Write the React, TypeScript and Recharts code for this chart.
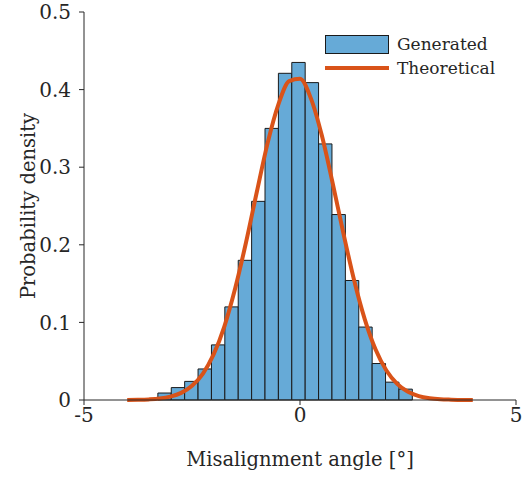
import React from "react";
import {
  ComposedChart,
  Line,
  XAxis,
  YAxis,
  ReferenceArea,
} from "recharts";

// histogram bin edges (degrees) and densities
const binEdges = [
  -3.29, -2.98, -2.67, -2.36, -2.05, -1.74, -1.43, -1.12, -0.81, -0.5, -0.19,
  0.12, 0.43, 0.74, 1.05, 1.36, 1.67, 1.98, 2.29, 2.6,
];
const binHeights = [
  0.009, 0.016, 0.024, 0.04, 0.071, 0.12, 0.18, 0.256, 0.35, 0.421, 0.435,
  0.409, 0.33, 0.239, 0.154, 0.094, 0.047, 0.023, 0.014,
];

// theoretical curve
const curveX = [
  -4, -3.75, -3.5, -3.25, -3, -2.75, -2.5, -2.25, -2, -1.75, -1.5, -1.25, -1,
  -0.75, -0.5, -0.25, 0, 0.25, 0.5, 0.75, 1, 1.25, 1.5, 1.75, 2, 2.25, 2.5,
  2.75, 3, 3.25, 3.5, 3.75, 4,
];
const curveY = [
  0.0001, 0.0003, 0.0008, 0.0019, 0.0044, 0.0092, 0.0183, 0.0338, 0.0587,
  0.095, 0.144, 0.203, 0.268, 0.331, 0.381, 0.411, 0.414, 0.389, 0.342, 0.281,
  0.216, 0.155, 0.104, 0.065, 0.038, 0.0208, 0.0106, 0.0051, 0.0023, 0.0009,
  0.0004, 0.0001, 0.00005,
];

const xTicks = [-5, 0, 5];
const yTicks = [0, 0.1, 0.2, 0.3, 0.4, 0.5];

const FONT = "DejaVu Serif";
const TEXT = "#262626";
const BAR_FILL = "#66AAD7";
const LINE_COLOR = "#D95319";

const data = curveX.map((x, i) => ({ x, y: curveY[i] }));

export default function App() {
  return (
    <div
      style={{
        position: "absolute",
        left: 0,
        top: 0,
        width: 522,
        height: 478,
        background: "#fff",
        fontFamily: FONT,
      }}
    >
      <ComposedChart
        width={522}
        height={478}
        data={data}
        margin={{ top: 12, right: 6, left: 0, bottom: 0 }}
      >
        <XAxis
          dataKey="x"
          type="number"
          domain={[-5, 5]}
          ticks={xTicks}
          allowDataOverflow
          height={78}
          stroke={TEXT}
          tickSize={5}
          tick={{ fontSize: 20, fill: TEXT, fontFamily: FONT }}
          tickMargin={3}
          label={(props: any) => {
            const vb = props.viewBox;
            return (
              <text
                x={vb.x + vb.width / 2}
                y={vb.y + 66}
                textAnchor="middle"
                fontSize={19.5}
                fill={TEXT}
                fontFamily={FONT}
              >
                Misalignment angle [°]
              </text>
            );
          }}
        />
        <YAxis
          type="number"
          domain={[0, 0.5]}
          ticks={yTicks}
          width={84}
          stroke={TEXT}
          tickSize={5}
          tick={{ fontSize: 20, fill: TEXT, fontFamily: FONT }}
          tickMargin={8}
          tickFormatter={(v: number) => (v === 0 ? "0" : String(v))}
          label={(props: any) => {
            const vb = props.viewBox;
            const cx = 28;
            const cy = vb.y + vb.height / 2;
            return (
              <text
                x={cx}
                y={cy}
                textAnchor="middle"
                dominantBaseline="central"
                transform={`rotate(-90, ${cx}, ${cy})`}
                fontSize={19.5}
                fill={TEXT}
                fontFamily={FONT}
              >
                Probability density
              </text>
            );
          }}
        />
        {binHeights.map((h, i) => (
          <ReferenceArea
            key={i}
            x1={binEdges[i]}
            x2={binEdges[i + 1]}
            y1={0}
            y2={h}
            fill={BAR_FILL}
            fillOpacity={1}
            stroke="#1a1a1a"
            strokeWidth={1}
            strokeOpacity={1}
          />
        ))}
        <Line
          dataKey="y"
          type="monotone"
          stroke={LINE_COLOR}
          strokeWidth={4}
          dot={false}
          activeDot={false}
          isAnimationActive={false}
        />
      </ComposedChart>
      <div
        style={{
          position: "absolute",
          left: 325,
          top: 32,
          color: TEXT,
          fontSize: 17,
          fontFamily: FONT,
          lineHeight: "24px",
        }}
      >
        <div style={{ display: "flex", alignItems: "center" }}>
          <span
            style={{
              display: "inline-block",
              width: 62,
              height: 17,
              background: BAR_FILL,
              border: "1px solid #1a1a1a",
              marginRight: 8,
            }}
          />
          Generated
        </div>
        <div style={{ display: "flex", alignItems: "center" }}>
          <span
            style={{
              display: "inline-block",
              width: 64,
              height: 4,
              background: LINE_COLOR,
              marginRight: 8,
            }}
          />
          Theoretical
        </div>
      </div>
    </div>
  );
}
